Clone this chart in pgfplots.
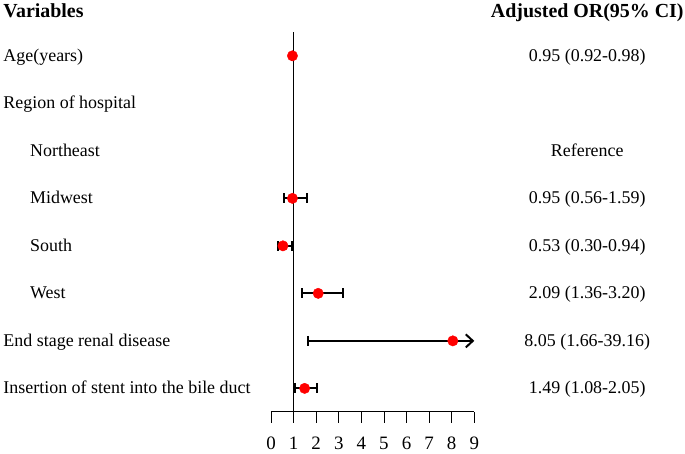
\documentclass[border=0pt]{standalone}
\usepackage{pgfplots}
\pgfplotsset{compat=1.18}
\usepackage{pgfplotstable}
\usepackage{fontspec}
\setmainfont{Liberation Serif}
\usetikzlibrary{arrows.meta}
\newcommand\tf{\fontsize{18}{22}\selectfont}
\newcommand\kf{\fontsize{19}{22}\selectfont}
\newcommand\hf{\fontsize{20}{24}\selectfont\bfseries}
\pgfplotstableread{
y or lo hi
8 0.95 0.92 0.98
5 0.95 0.56 1.59
4 0.53 0.30 0.94
3 2.09 1.36 3.20
2 8.05 1.66 39.16
1 1.49 1.08 2.05
}\ci
\begin{document}
\begin{tikzpicture}
\begin{axis}[
  scale only axis, width=203.3bp, height=379.7bp,
  xmin=0, xmax=9, ymin=0.507, ymax=8.5,
  axis x line=bottom, axis y line=none,
  x axis line style={-, line width=0.8pt},
  xtick={0,1,...,9}, tick align=outside, major tick length=11bp,
  xtick style={black, line width=0.8pt},
  /pgf/number format/assume math mode=true,
  xticklabel style={font=\kf, yshift=-11bp},
  clip=false,
  every node/.append style={inner sep=0pt},
]
\path (axis cs:-11.996,-0.362) rectangle (axis cs:18.327,9.175);
\addplot[black, line width=0.8pt] coordinates {(1,0.507) (1,8.5)};
% confidence intervals
\pgfplotsset{cistyle/.style={black, line width=2bp, mark=|, mark options={line width=2bp, mark size=5bp}}}
\addplot[cistyle] coordinates {(0.92,8) (0.98,8)};
\addplot[cistyle] coordinates {(0.56,5) (1.59,5)};
\addplot[cistyle] coordinates {(0.30,4) (0.94,4)};
\addplot[cistyle] coordinates {(1.36,3) (3.20,3)};
\addplot[cistyle] coordinates {(1.08,1) (2.05,1)};
% ESRD: upper limit 39.16 beyond axis, drawn as arrow to 9
\addplot[black, line width=2bp, -{Straight Barb[length=7bp, width=13bp]}] coordinates {(1.66,2) (9,2)};
\addplot[only marks, mark=|, mark options={line width=2bp, mark size=5bp}, black] coordinates {(1.66,2)};
% point estimates
\addplot[only marks, mark=*, mark size=5.2bp, red, draw=red] table[x=or, y=y]{\ci};
% text
\begin{scope}[every node/.style={inner sep=0pt, yshift=-3bp}]
\node[anchor=mid west] at (axis cs:-11.85,8.92) {\hf Variables};
\node[anchor=mid] at (axis cs:14,8.92) {\hf Adjusted OR(95\% CI)};
\node[anchor=mid west] at (axis cs:-11.85,8) {\tf Age(years)};
\node[anchor=mid west] at (axis cs:-11.85,7) {\tf Region of hospital};
\node[anchor=mid west] at (axis cs:-10.67,6) {\tf Northeast};
\node[anchor=mid west] at (axis cs:-10.67,5) {\tf Midwest};
\node[anchor=mid west] at (axis cs:-10.67,4) {\tf South};
\node[anchor=mid west] at (axis cs:-10.67,3) {\tf West};
\node[anchor=mid west] at (axis cs:-11.85,2) {\tf End stage renal disease};
\node[anchor=mid west] at (axis cs:-11.85,1) {\tf Insertion of stent into the bile duct};
\node[anchor=mid] at (axis cs:14,8) {\tf 0.95 (0.92-0.98)};
\node[anchor=mid] at (axis cs:14,6) {\tf Reference};
\node[anchor=mid] at (axis cs:14,5) {\tf 0.95 (0.56-1.59)};
\node[anchor=mid] at (axis cs:14,4) {\tf 0.53 (0.30-0.94)};
\node[anchor=mid] at (axis cs:14,3) {\tf 2.09 (1.36-3.20)};
\node[anchor=mid] at (axis cs:14,2) {\tf 8.05 (1.66-39.16)};
\node[anchor=mid] at (axis cs:14,1) {\tf 1.49 (1.08-2.05)};
\end{scope}
\end{axis}
\end{tikzpicture}
\end{document}
